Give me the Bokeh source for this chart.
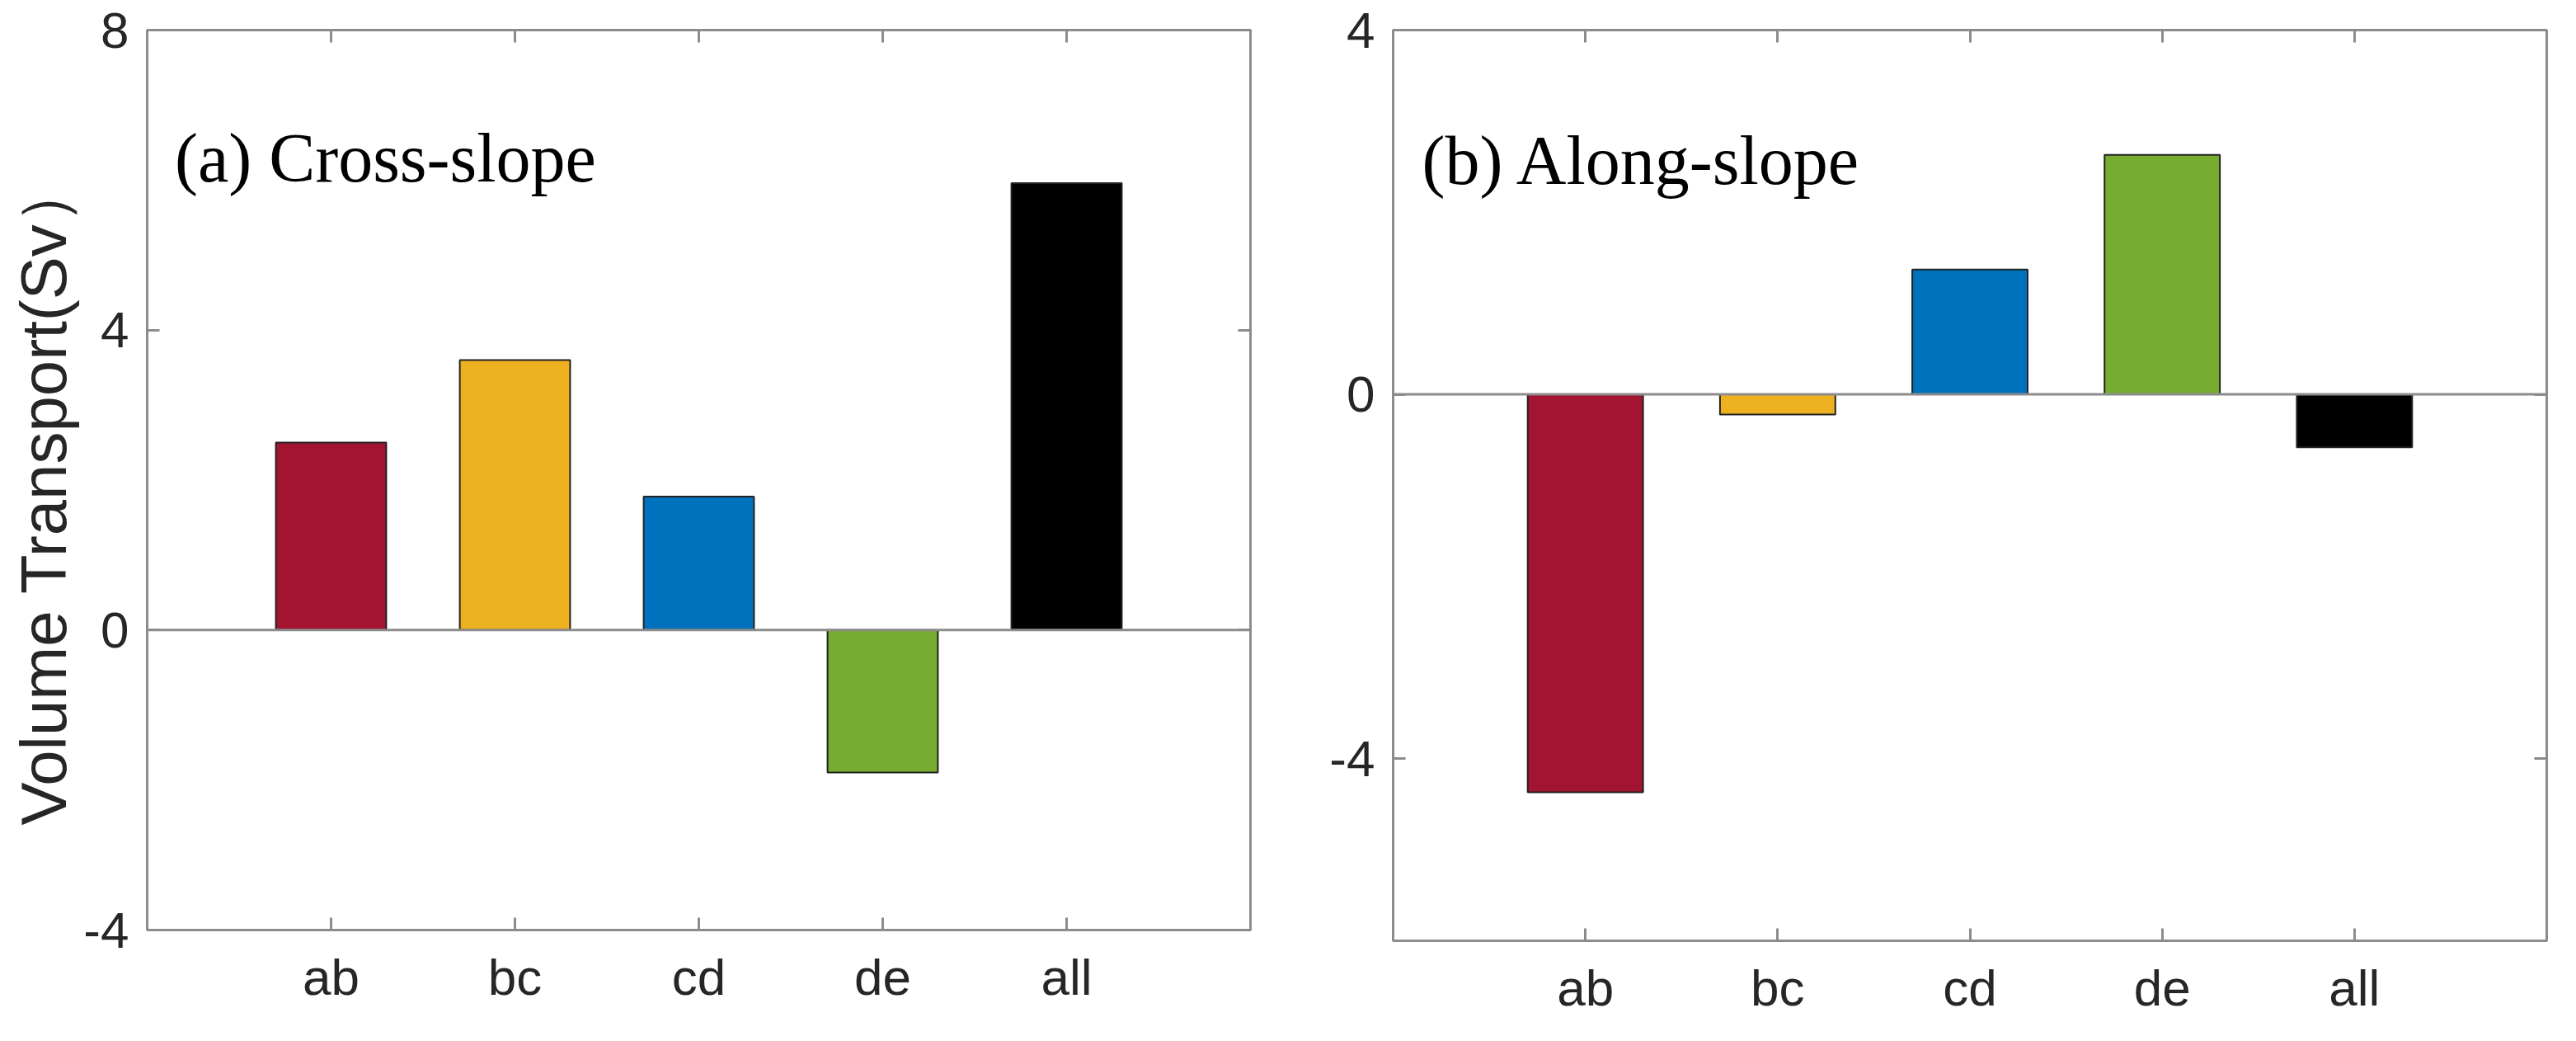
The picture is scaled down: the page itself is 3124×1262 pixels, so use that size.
from bokeh.plotting import figure
from bokeh.layouts import row
from bokeh.models import (Range1d, FixedTicker, LinearAxis, Span, Label, Title,
                          ColumnDataSource, CustomJSTickFormatter)
from bokeh.embed import file_html
from bokeh.resources import INLINE

# ---- data ----
categories = ["ab", "bc", "cd", "de", "all"]
cross_slope = [2.5, 3.6, 1.78, -1.9, 5.96]
along_slope = [-4.37, -0.22, 1.37, 2.63, -0.58]
bar_colors = ["#A2142F", "#EDB120", "#0072BD", "#77AC30", "#000000"]
yticks_a = [-4, 0, 4, 8]
yticks_b = [-4, 0, 4]
ylim_a = (-4, 8)
ylim_b = (-6, 4)
title_a = "(a) Cross-slope"
title_b = "(b) Along-slope"
ylabel = "Volume Transport(Sv\uff09"

AX = "#8c8c8c"
TXT = "#262626"
SANS = "Liberation Sans"
SERIF = "Liberation Serif"


def make_panel(vals, yticks, ylim, title, title_y, width, height,
               bl, br, bt, bb, fw, fh, with_label):
    pos = [i + 1 for i in range(len(categories))]
    src = ColumnDataSource(dict(x=pos, top=vals, color=bar_colors))
    p = figure(width=width, height=height, frame_width=fw, frame_height=fh,
               x_range=Range1d(0, len(categories) + 1),
               y_range=Range1d(*ylim),
               output_backend="svg", toolbar_location=None,
               min_border_left=bl, min_border_right=br,
               min_border_top=bt, min_border_bottom=bb)
    p.background_fill_color = "white"
    p.border_fill_color = "white"
    p.outline_line_color = AX
    p.outline_line_width = 3
    p.grid.visible = False

    p.vbar(x="x", top="top", bottom=0, width=0.6, source=src,
           fill_color="color", line_color="#222222", line_width=2)
    p.add_layout(Span(location=0, dimension="width", line_color=AX,
                      line_width=3))

    xt = FixedTicker(ticks=pos)
    yt = FixedTicker(ticks=yticks)

    # bottom axis
    xa = p.xaxis[0]
    xa.ticker = xt
    xa.major_label_overrides = {pp: c for pp, c in zip(pos, categories)}
    # left axis
    ya = p.yaxis[0]
    ya.ticker = yt
    ya.major_label_overrides = {t: str(t) for t in yticks}
    for ax in (xa, ya):
        ax.axis_line_color = AX
        ax.axis_line_width = 3
        ax.major_tick_line_color = AX
        ax.major_tick_line_width = 3
        ax.major_tick_in = 15
        ax.major_tick_out = 0
        ax.minor_tick_line_color = None
        ax.major_label_text_font = SANS
        ax.major_label_text_font_size = "62px"
        ax.major_label_text_color = TXT
    xa.major_label_standoff = 22
    ya.major_label_standoff = 22

    if with_label:
        p.add_layout(Title(text=ylabel, align="left", offset=127,
                           text_font=SANS, text_font_size="78px",
                           text_font_style="normal", text_color=TXT,
                           standoff=4), "left")

    blank = CustomJSTickFormatter(code="return ''")
    ta = LinearAxis(ticker=xt, formatter=blank)
    ra = LinearAxis(ticker=yt, formatter=blank)
    for ax in (ta, ra):
        ax.axis_line_color = AX
        ax.axis_line_width = 3
        ax.major_tick_line_color = AX
        ax.major_tick_line_width = 3
        ax.major_tick_in = 15
        ax.major_tick_out = 0
        ax.minor_tick_line_color = None
        ax.major_label_standoff = 0
        ax.major_label_text_font_size = "1px"
    p.add_layout(ta, "above")
    p.add_layout(ra, "right")

    p.add_layout(Label(x=0.15, y=title_y, text=title, text_font=SERIF,
                       text_font_size="84px", text_color="black",
                       text_align="left", text_baseline="alphabetic"))
    return p


pa = make_panel(cross_slope, yticks_a, ylim_a, title_a, 6.3,
                1582, 1246, 178, 66, 36, 119, 1338, 1091, True)
pb = make_panel(along_slope, yticks_b, ylim_b, title_b, 2.57,
                1526, 1246, 107, 20, 33, 109, 1399, 1104, False)

layout = row(pa, pb, spacing=0)
open("out.html", "w").write(file_html(layout, INLINE))
